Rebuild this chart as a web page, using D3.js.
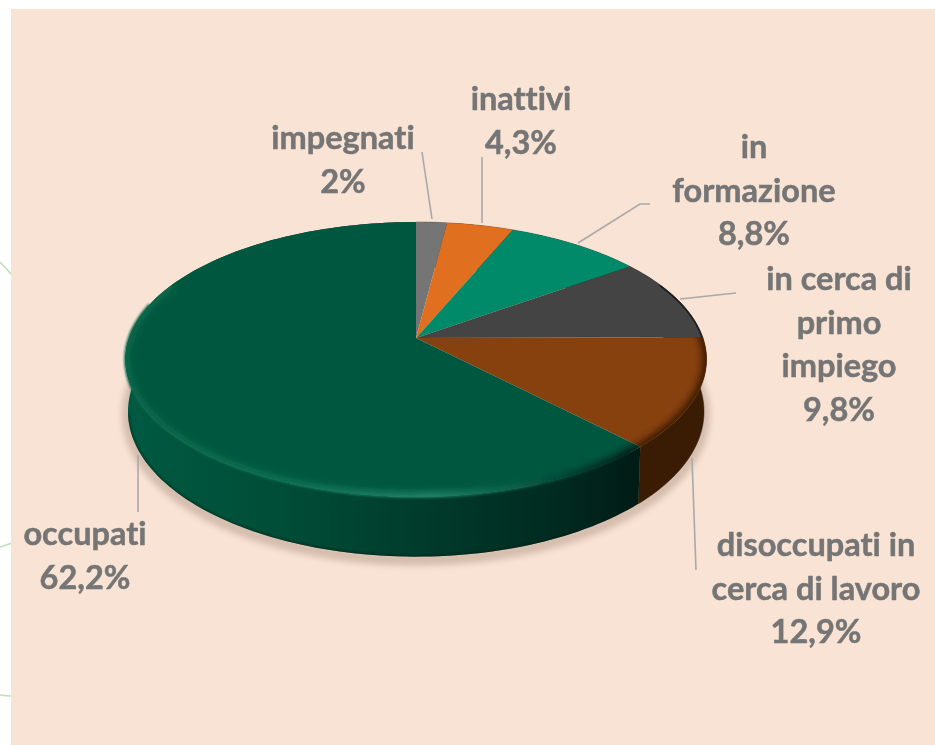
<!DOCTYPE html>
<html><head><meta charset="utf-8">
<script src="https://cdn.jsdelivr.net/npm/d3@7"></script>
<style>html,body{margin:0;padding:0;background:#fff}svg{display:block}</style>
</head><body><div id="chart"></div>
<script>
const categories = ["impegnati","inattivi","in formazione","in cerca di primo impiego","disoccupati in cerca di lavoro","occupati"];
const values = [2, 4.3, 8.8, 9.8, 12.9, 62.2];
const valueLabels = ["2%","4,3%","8,8%","9,8%","12,9%","62,2%"];
const labelLines = [["impegnati"],["inattivi"],["in","formazione"],["in cerca di","primo","impiego"],["disoccupati in","cerca di lavoro"],["occupati"]];
const topColors = ["#757575","#e0701f","#008a6a","#444444","#86410f","#00573f"];
const wallColors = ["#3a3a3a","#6e3408","#004535","#222222","#3a1c05","#003a2b"];

const W=935,H=745;
// layout (not data)
const labelX=[343,521,754,839,816,85], labelY=[149,110,158,290,556,545];
const leaders=[[[422,152],[432,219]],[[482,157],[482,223]],[[650,204],[640,204],[578,243]],[[736,293],[680,299]],[[692,458],[696,570]],[[138,455],[138,512]]];

const svg=d3.select("#chart").append("svg").attr("width",W).attr("height",H).attr("viewBox",[0,0,W,H]);
const defs=svg.append("defs");
const blur=(id,s)=>defs.append("filter").attr("id",id).attr("x","-20%").attr("y","-20%").attr("width","140%").attr("height","140%").append("feGaussianBlur").attr("stdDeviation",s);
blur("b6",5);blur("b3",3);blur("b1",1.2);blur("t",0.3);

const K=0.156;
const project=(A,B,Y0)=>a=>{const u=Math.sin(a),v=Math.cos(a),d=1+K*v;return [416+A*u/d,Y0-B*v/d];};
const topP=project(287,134,338), botP=project(284.5,141.5,389);
const pie=d3.pie().sort(null).startAngle(0).endAngle(2*Math.PI).value(d=>d)(values);
const steps=(a,b)=>d3.range(0,1.0001,1/Math.max(4,Math.ceil((b-a)*40))).map(t=>a+(b-a)*t);
const line=d3.line();
const arcPts=(P,a,b)=>steps(a,b).map(P);
const slicePath=d=>line([[416,338],...arcPts(topP,d.startAngle,d.endAngle)])+"Z";
const allBot=line(arcPts(botP,0,2*Math.PI))+"Z";
const rad=d=>d*Math.PI/180;

svg.append("rect").attr("width",W).attr("height",H).attr("fill","#fff");
["M0,262Q6,268 12,275","M0,547Q6,545 12,543","M0,695Q6,696 12,696"].forEach(p=>svg.append("path").attr("d",p).attr("fill","none").attr("stroke","#bfe0b8").attr("stroke-width",1.6));
svg.append("rect").attr("x",11).attr("y",9).attr("width",W-11).attr("height",H-9).attr("fill","#f8e3d4");

// shadow (front only)
const shadowArc=line(arcPts(botP,rad(75),rad(285)));
svg.append("path").attr("d",shadowArc).attr("fill","none").attr("stroke","#7a5a48").attr("stroke-width",12).attr("opacity",.28).attr("filter","url(#b3)").attr("transform","translate(0,3)");

const grad=(id,stops)=>{const g=defs.append("linearGradient").attr("id",id).attr("gradientUnits","userSpaceOnUse").attr("x1",125).attr("x2",636).attr("y1",0).attr("y2",0);stops.forEach(s=>g.append("stop").attr("offset",s[0]).attr("stop-color",s[1]));};
grad("wallGreen",[[0,"#005a41"],[.3,"#004d38"],[.6,"#003a2b"],[.85,"#002a20"],[1,"#001c15"]]);
grad("edgeGreen",[[0,"#07664a"],[.3,"#0b6d50"],[.6,"#1f8066"],[.76,"#0a6049"],[.92,"#00352a"],[1,"#002019"]]);

const wall=svg.append("g");
pie.forEach((d,i)=>{
  const t=arcPts(topP,d.startAngle,d.endAngle), b=arcPts(botP,d.startAngle,d.endAngle).reverse();
  wall.append("path").attr("d",line([...t,...b])+"Z").attr("fill",i===5?"url(#wallGreen)":wallColors[i]).attr("stroke",i===5?"none":wallColors[i]).attr("stroke-width",.5);
});
defs.append("clipPath").attr("id","clipWall").append("path").attr("d",allBot);
svg.append("path").attr("d",line(arcPts(botP,rad(150),rad(260)))).attr("fill","none").attr("stroke","#001a12").attr("stroke-width",3).attr("opacity",.5).attr("filter","url(#b1)").attr("clip-path","url(#clipWall)");

// top face with soft rim on the front part only
const face=svg.append("g");
pie.forEach((d,i)=>{
  const id="clip"+i;
  defs.append("clipPath").attr("id",id).append("path").attr("d",slicePath(d));
  face.append("path").attr("d",slicePath(d)).attr("fill",topColors[i]);
});
const rimG=face.append("g");
rimG.append("g").attr("clip-path","url(#clip4)").append("path").attr("d",line(arcPts(topP,pie[4].startAngle-.1,pie[4].endAngle+.05))).attr("fill","none").attr("stroke","#3f1e06").attr("stroke-width",9).attr("filter","url(#b3)");
rimG.append("g").attr("clip-path","url(#clip3)").append("path").attr("d",line(arcPts(topP,rad(65),rad(90)))).attr("fill","none").attr("stroke","#1c1c1c").attr("stroke-width",3).attr("filter","url(#t)");
rimG.append("g").attr("clip-path","url(#clip5)").append("path").attr("d",line(arcPts(topP,pie[5].startAngle,rad(295)))).attr("fill","none").attr("stroke","url(#edgeGreen)").attr("stroke-width",10).attr("filter","url(#b3)");
// soften the seam between face and wall
rimG.append("path").attr("d",line(arcPts(topP,pie[5].startAngle+.05,rad(285)))).attr("fill","none").attr("stroke","url(#edgeGreen)").attr("stroke-width",2.5).attr("filter","url(#b1)");

leaders.forEach(l=>svg.append("path").attr("d",line(l)).attr("fill","none").attr("stroke","#a9a9a9").attr("stroke-width",1.6));

const LH=43.6;
categories.forEach((c,i)=>{
  const t=svg.append("text").attr("text-anchor","middle").attr("font-family","Lato, 'Open Sans', sans-serif").attr("font-weight",700).attr("font-size",32.5).attr("fill","#757575").attr("stroke","#757575").attr("stroke-width",.5).attr("filter","url(#t)").style("font-variant-ligatures","none");
  [...labelLines[i],valueLabels[i]].forEach((s,j)=>t.append("tspan").attr("x",labelX[i]).attr("y",labelY[i]+j*LH).text(s));
});
</script></body></html>
